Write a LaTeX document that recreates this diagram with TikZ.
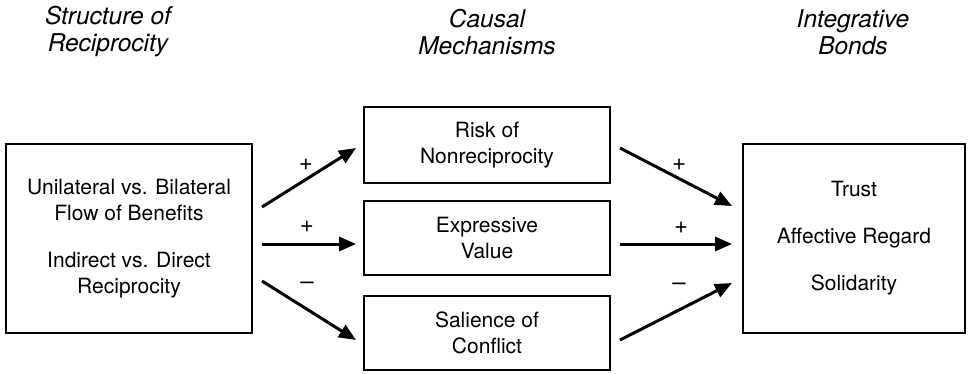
\documentclass[tikz,border=0pt]{standalone}
\usepackage{fontspec}
\setmainfont{TeX Gyre Heros}
\usetikzlibrary{arrows.meta, positioning}
\tikzset{
    frame/.style={rectangle, draw=black, line width=2pt, align=center,
                  font=\fontsize{21}{26}\selectfont},
    heading/.style={align=center, font=\fontsize{24.5}{27}\selectfont\itshape},
    sign/.style={font=\fontsize{24}{26}\selectfont},
    arrow/.style={-{Triangle[length=17pt, width=14pt]}, line width=3pt},
}

\begin{document}
\begin{tikzpicture}[x=1pt, y=-1pt]
            \useasboundingbox (0,0) rectangle (969,373);

            \node[heading] (hstruct) at (108, 32) {Structure of\\Reciprocity};
            \node[heading] (hcausal) at (487, 32) {Causal\\Mechanisms};
            \node[heading] (hbonds) at (853, 32) {Integrative\\Bonds};

            \node[frame, minimum width=246pt, minimum height=189pt] (struct) at (129, 238.5)
                {Unilateral vs. Bilateral\\Flow of Benefits\\[21pt]Indirect vs. Direct\\Reciprocity};
            \node[frame, minimum width=246pt, minimum height=76pt] (risk) at (487, 145) {Risk of\\Nonreciprocity};
            \node[frame, minimum width=246pt, minimum height=74pt] (expr) at (487, 238) {Expressive\\Value};
            \node[frame, minimum width=246pt, minimum height=74pt] (sal) at (487, 333) {Salience of\\Conflict};
            \node[frame, minimum width=222pt, minimum height=189pt] (bonds) at (854, 238.5)
                {Trust\\[21pt]Affective Regard\\[21pt]Solidarity};

            \draw[arrow] ([shift={(9,-31.5)}]struct.east) -- ([shift={(-7,3)}]risk.west);
            \draw[arrow] ([shift={(9,5.5)}]struct.east) -- ([shift={(-7,6)}]expr.west);
            \draw[arrow] ([shift={(9,42.5)}]struct.east) -- ([shift={(-7,7)}]sal.west);

            \draw[arrow] ([shift={(9,3)}]risk.east) -- ([shift={(-10,-32.5)}]bonds.west);
            \draw[arrow] ([shift={(9,6)}]expr.east) -- ([shift={(-10,5.5)}]bonds.west);
            \draw[arrow] ([shift={(9,7)}]sal.east) -- ([shift={(-10,44.5)}]bonds.west);

            \node[sign] (s1) at (306, 165) {+};
            \node[sign] (s2) at (307, 227) {+};
            \node[sign] (s3) at (307, 286) {\textendash};
            \node[sign] (s4) at (679, 165) {+};
            \node[sign] (s5) at (681, 228) {+};
            \node[sign] (s6) at (679, 287) {\textendash};
        \end{tikzpicture}
\end{document}
